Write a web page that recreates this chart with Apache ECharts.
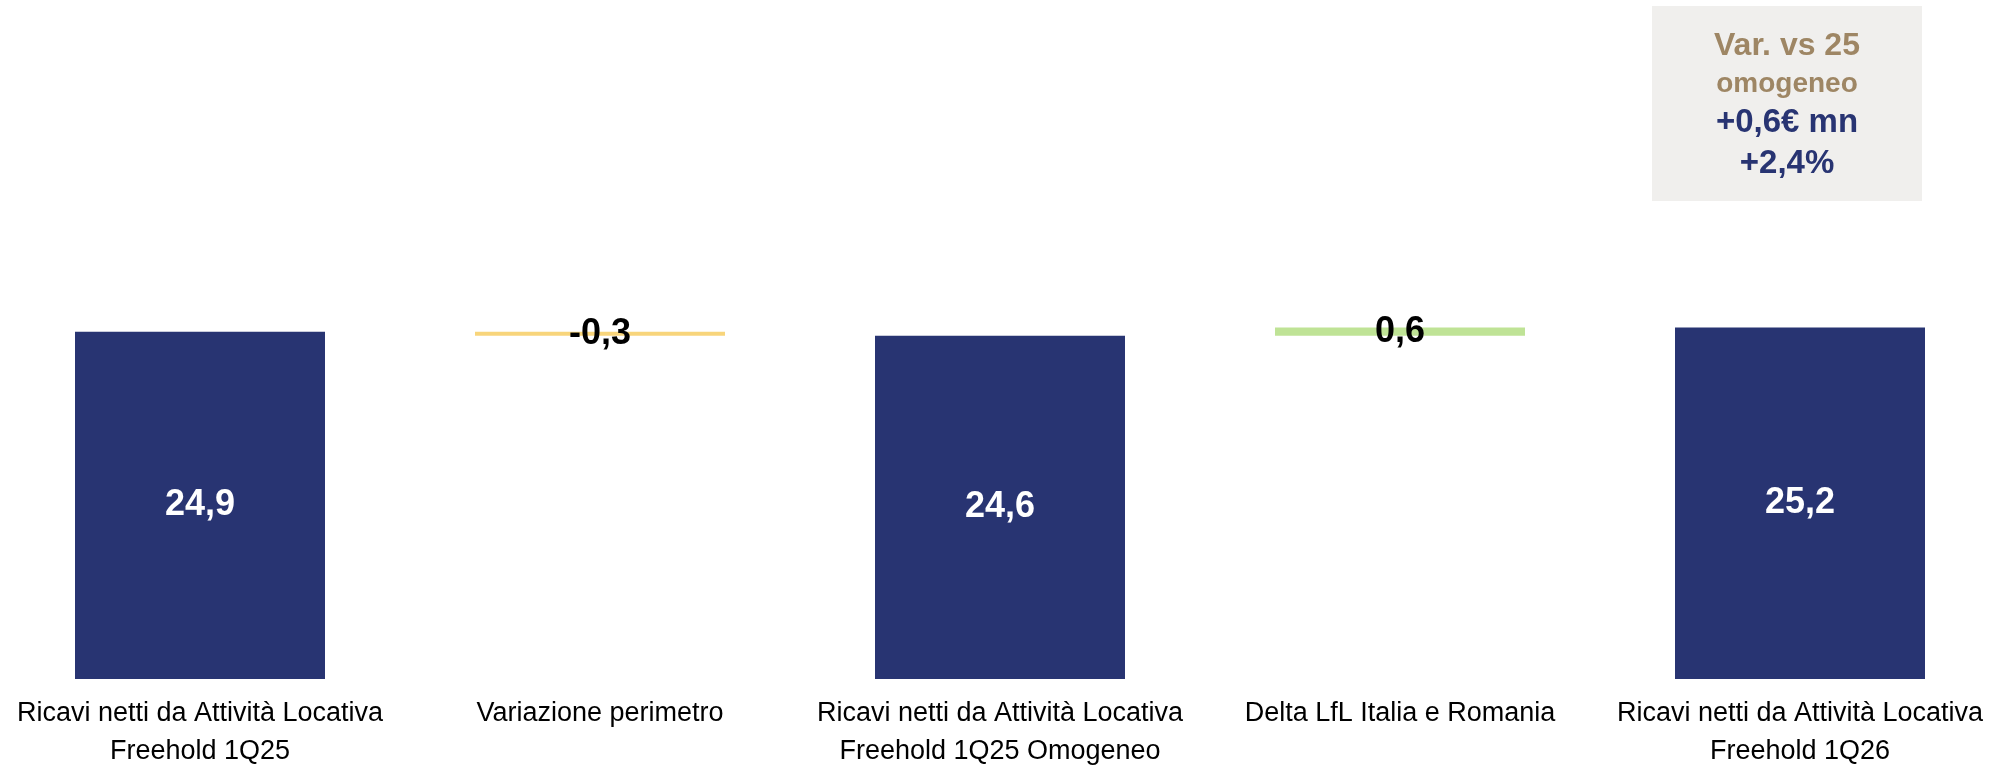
<!DOCTYPE html>
<html>
<head>
<meta charset="utf-8">
<script src="https://cdn.jsdelivr.net/npm/echarts@6/dist/echarts.min.js"></script>
<style>
html,body{margin:0;padding:0;background:#fff;}
#chart{width:2000px;height:767px;}
</style>
</head>
<body>
<div id="chart"></div>
<script>
// ---- data ----
var categories = [
  'Ricavi netti da Attività Locativa\nFreehold 1Q25',
  'Variazione perimetro',
  'Ricavi netti da Attività Locativa\nFreehold 1Q25 Omogeneo',
  'Delta LfL Italia e Romania',
  'Ricavi netti da Attività Locativa\nFreehold 1Q26'
];
var totals = [24.9, null, 24.6, null, 25.2];
var deltas = [null, -0.3, null, 0.6, null];
var boxTitle = ['Var. vs 25', 'omogeneo'];
var boxValues = ['+0,6€ mn', '+2,4%'];

// ---- derived series ----
var base = [], totalData = [], decData = [], incData = [];
var running = 0;
for (var i = 0; i < categories.length; i++) {
  if (totals[i] !== null) {
    running = totals[i];
    base.push(0); totalData.push(totals[i]); decData.push('-'); incData.push('-');
  } else {
    var d = deltas[i];
    var start = running, end = running + d;
    base.push(Math.min(start, end));
    totalData.push('-');
    if (d < 0) { decData.push(-d); incData.push('-'); }
    else { incData.push(d); decData.push('-'); }
    running = end;
  }
}
function fmt(v) { return v.toFixed(1).replace('.', ','); }

var FONT = '"Liberation Sans", Arial, sans-serif';
var chart = echarts.init(document.getElementById('chart'), null, {renderer: 'canvas'});
chart.setOption({
  animation: false,
  backgroundColor: '#ffffff',
  grid: {left: 0, right: 0, top: 121, bottom: 88, containLabel: false, outerBoundsMode: 'none'},
  xAxis: {
    type: 'category',
    data: categories,
    axisLine: {show: false},
    axisTick: {show: false},
    axisLabel: {
      interval: 0, margin: 16, fontSize: 27, lineHeight: 38,
      color: '#000000', fontFamily: FONT
    }
  },
  yAxis: {type: 'value', min: 0, max: 40, show: false, splitLine: {show: false}},
  series: [
    {
      type: 'bar', stack: 'w', barWidth: 250, data: base,
      itemStyle: {color: 'rgba(0,0,0,0)'}, silent: true
    },
    {
      type: 'bar', stack: 'w', barWidth: 250, data: totalData,
      itemStyle: {color: '#283472'},
      label: {
        show: true, position: 'inside', color: '#ffffff', fontSize: 36,
        fontWeight: 'bold', fontFamily: FONT,
        formatter: function (p) { return fmt(p.value); }
      }
    },
    {
      type: 'bar', stack: 'w', barWidth: 250, data: decData,
      itemStyle: {color: '#F8D57B'},
      label: {
        show: true, position: 'inside', color: '#000000', fontSize: 36,
        fontWeight: 'bold', fontFamily: FONT,
        formatter: function (p) { return fmt(deltas[p.dataIndex]); }
      }
    },
    {
      type: 'bar', stack: 'w', barWidth: 250, data: incData,
      itemStyle: {color: '#BFE396'},
      label: {
        show: true, position: 'inside', color: '#000000', fontSize: 36,
        fontWeight: 'bold', fontFamily: FONT,
        formatter: function (p) { return fmt(deltas[p.dataIndex]); }
      }
    }
  ],
  graphic: [
    {type: 'rect', shape: {x: 1652, y: 6, width: 270, height: 195}, style: {fill: '#F0EFED'}},
    {type: 'text', x: 1787, y: 46, style: {text: boxTitle[0], fill: '#9E8664', font: 'bold 32px ' + FONT, textAlign: 'center', textVerticalAlign: 'middle'}},
    {type: 'text', x: 1787, y: 84, style: {text: boxTitle[1], fill: '#9E8664', font: 'bold 28px ' + FONT, textAlign: 'center', textVerticalAlign: 'middle'}},
    {type: 'text', x: 1787, y: 123, style: {text: boxValues[0], fill: '#283472', font: 'bold 33px ' + FONT, textAlign: 'center', textVerticalAlign: 'middle'}},
    {type: 'text', x: 1787, y: 164, style: {text: boxValues[1], fill: '#283472', font: 'bold 33px ' + FONT, textAlign: 'center', textVerticalAlign: 'middle'}}
  ]
});
</script>
</body>
</html>
